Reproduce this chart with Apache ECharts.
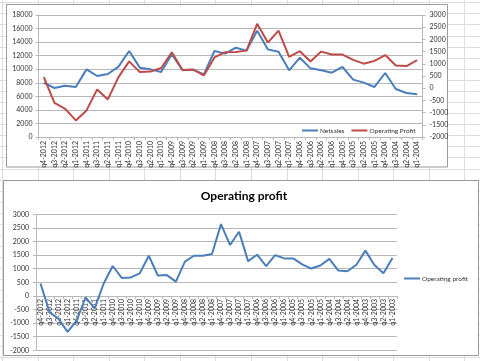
<!DOCTYPE html>
<html>
<head>
<meta charset="utf-8">
<script src="https://cdn.jsdelivr.net/npm/echarts@6/dist/echarts.min.js"></script>
<style>
html,body{margin:0;padding:0;background:#fff;}
#c{width:480px;height:361px;}
</style>
</head>
<body>
<div id="c"></div>
<script>
// ---- data ----
const quarters = ['q4-2012','q3-2012','q2-2012','q1-2012','q4-2011','q3-2011','q2-2011','q1-2011',
  'q4-2010','q3-2010','q2-2010','q1-2010','q4-2009','q3-2009','q2-2009','q1-2009',
  'q4-2008','q3-2008','q2-2008','q1-2008','q4-2007','q3-2007','q2-2007','q1-2007',
  'q4-2006','q3-2006','q2-2006','q1-2006','q4-2005','q3-2005','q2-2005','q1-2005',
  'q4-2004','q3-2004','q2-2004','q1-2004','q4-2003','q3-2003','q2-2003','q1-2003'];
const topQuarterCount = 36;
const netsales = [8000,7230,7570,7380,9980,9000,9300,10380,12690,10230,9980,9590,12200,9840,9930,9250,
  12690,12300,13180,12740,15690,12930,12590,9840,11700,10130,9840,9490,10330,8460,8020,7380,9440,7080,6490,6300];
const operatingProfit = [455,-600,-845,-1320,-910,-50,-460,455,1100,660,680,830,1475,750,765,525,
  1260,1475,1480,1540,2640,1870,2360,1280,1515,1095,1500,1378,1378,1160,1005,1120,1360,932,906,1146,
  1664,1137,831,1395];
const leftTicks = {min:0, max:18000, interval:2000};
const rightTicks = {min:-2000, max:3000, interval:500};

// ---- derived ----
const topCats = quarters.slice(0, topQuarterCount);
const topProfit = operatingProfit.slice(0, topQuarterCount);

const FONT = 'Lato, "Liberation Sans", sans-serif';
const TXT = '#333';
const GRID = '#b8b8b8';
const BLUE = '#4a7ebb';
const RED = '#be4b48';
const plain = v => String(v);

// bottom plot geometry (category axis sits on the zero line of the value axis)
const bottomGrid = {left:36, top:214.3, width:361, height:136};
const zeroOffset = -bottomGrid.height * (0 - rightTicks.min) / (rightTicks.max - rightTicks.min);

// spreadsheet background decoration
const sheet = [];
for (let k = 0; k < 34; k++) {
  const y = Math.round(2.3 + k * 11.08) + 0.5;
  sheet.push({type:'line', z:-20, silent:true, shape:{x1:0,y1:y,x2:480,y2:y}, style:{stroke:'#dcdcdc',lineWidth:1}});
}
for (let k = 0; k < 14; k++) {
  const x = Math.round(2.15 + k * 35.55) + 0.5;
  sheet.push({type:'line', z:-20, silent:true, shape:{x1:x,y1:0,x2:x,y2:361}, style:{stroke:'#dcdcdc',lineWidth:1}});
}
sheet.push({type:'rect', z:-10, silent:true, shape:{x:6.5,y:4.5,width:441,height:162.5}, style:{fill:'#fff',stroke:'#9a9a9a',lineWidth:1}});
sheet.push({type:'rect', z:-10, silent:true, shape:{x:3.5,y:180.5,width:475,height:175}, style:{fill:'#fff',stroke:'#9a9a9a',lineWidth:1}});

const axisLabelBase = {fontFamily:FONT, fontSize:7, color:TXT};

const option = {
  animation:false,
  backgroundColor:'#fff',
  graphic: sheet,
  title: {
    text:'Operating profit', left:239, top:185, textAlign:'center',
    textStyle:{fontFamily:FONT, fontSize:12, fontWeight:'bold', color:'#000'}
  },
  legend: [
    {data:['Netsales','Operating Profit'], left:302, top:127, icon:'rect', padding:0,
     itemWidth:16, itemHeight:2, itemGap:7,
     textStyle:{fontFamily:FONT, fontSize:6.5, color:TXT, padding:[0,0,0,-3]}},
    {data:['Operating profit'], left:404, top:275, icon:'rect', padding:0,
     itemWidth:16, itemHeight:2,
     textStyle:{fontFamily:FONT, fontSize:6.5, color:TXT, padding:[0,0,0,-3]}}
  ],
  grid: [
    {left:38.5, top:15, width:384, height:122, containLabel:false, outerBoundsMode:'none'},
    Object.assign({containLabel:false, outerBoundsMode:'none'}, bottomGrid)
  ],
  xAxis: [
    {type:'category', gridIndex:0, data:topCats, boundaryGap:true,
     axisLine:{show:true, lineStyle:{color:GRID}},
     axisTick:{show:true, length:3, lineStyle:{color:GRID}},
     axisLabel:Object.assign({}, axisLabelBase, {rotate:90, interval:0, margin:4})},
    {type:'category', gridIndex:1, data:quarters, boundaryGap:true, position:'bottom', offset:zeroOffset,
     axisLine:{show:true, onZero:false, lineStyle:{color:GRID}},
     axisTick:{show:true, length:3, lineStyle:{color:GRID}},
     axisLabel:Object.assign({}, axisLabelBase, {rotate:90, interval:0, margin:3})}
  ],
  yAxis: [
    {type:'value', gridIndex:0, position:'left', min:leftTicks.min, max:leftTicks.max, interval:leftTicks.interval,
     axisLine:{show:true, lineStyle:{color:GRID}},
     axisTick:{show:true, length:3, lineStyle:{color:GRID}},
     splitLine:{show:true, lineStyle:{color:GRID, width:1}},
     axisLabel:Object.assign({}, axisLabelBase, {margin:6, formatter:plain})},
    {type:'value', gridIndex:0, position:'right', min:rightTicks.min, max:rightTicks.max, interval:rightTicks.interval,
     axisLine:{show:true, lineStyle:{color:GRID}},
     axisTick:{show:true, length:3, lineStyle:{color:GRID}},
     splitLine:{show:false},
     axisLabel:Object.assign({}, axisLabelBase, {margin:7, formatter:plain})},
    {type:'value', gridIndex:1, position:'left', min:rightTicks.min, max:rightTicks.max, interval:rightTicks.interval,
     axisLine:{show:true, lineStyle:{color:GRID}},
     axisTick:{show:true, length:3, lineStyle:{color:GRID}},
     splitLine:{show:true, lineStyle:{color:GRID, width:1}},
     axisLabel:Object.assign({}, axisLabelBase, {margin:7, formatter:plain})}
  ],
  series: [
    {name:'Netsales', type:'line', xAxisIndex:0, yAxisIndex:0, data:netsales, symbol:'none',
     lineStyle:{color:BLUE, width:2}, itemStyle:{color:BLUE}},
    {name:'Operating Profit', type:'line', xAxisIndex:0, yAxisIndex:1, data:topProfit, symbol:'none',
     lineStyle:{color:RED, width:2}, itemStyle:{color:RED}},
    {name:'Operating profit', type:'line', xAxisIndex:1, yAxisIndex:2, data:operatingProfit, symbol:'none',
     lineStyle:{color:BLUE, width:2}, itemStyle:{color:BLUE}}
  ]
};
const chart = echarts.init(document.getElementById('c'), null, {renderer:'canvas'});
chart.setOption(option);
</script>
</body>
</html>
